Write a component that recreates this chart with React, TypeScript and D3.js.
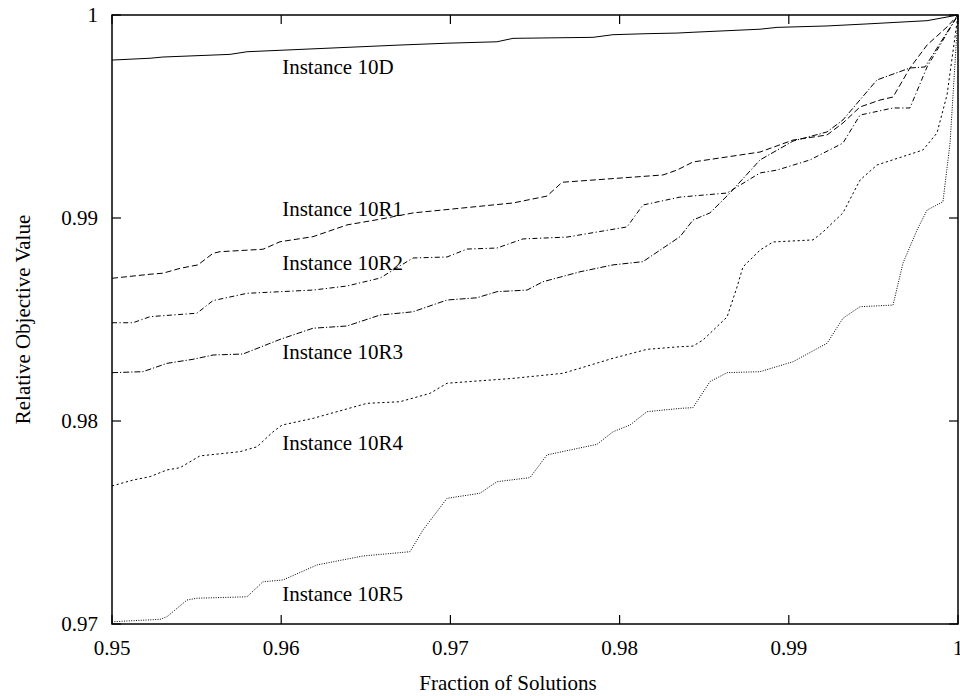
import React from "react";
import * as d3 from "d3";

// ---- data ----
const xTicks = [0.95, 0.96, 0.97, 0.98, 0.99, 1.0];
const xTickLabels = ["0.95", "0.96", "0.97", "0.98", "0.99", "1"];
const yTicks = [0.97, 0.98, 0.99, 1.0];
const yTickLabels = ["0.97", "0.98", "0.99", "1"];

const series10D: [number, number][] = [
  [0.95, 0.99778], [0.95225, 0.99787], [0.95301, 0.99793], [0.95697, 0.99806],
  [0.95798, 0.99819], [0.96702, 0.99852], [0.9698, 0.99861], [0.97275, 0.99868],
  [0.9737, 0.99885], [0.97843, 0.9989], [0.97961, 0.99903], [0.98162, 0.99908],
  [0.98339, 0.99911], [0.98434, 0.99915], [0.9883, 0.9993], [0.9893, 0.99939],
  [0.99226, 0.99946], [0.99462, 0.99956], [0.99817, 0.99972], [1.0, 1.0],
];

const series10R1: [number, number][] = [
  [0.95, 0.98703], [0.95225, 0.98723], [0.95301, 0.98728], [0.95402, 0.98752],
  [0.95508, 0.98769], [0.95597, 0.98826], [0.95638, 0.98834], [0.95892, 0.98846],
  [0.95993, 0.98883], [0.96188, 0.98908], [0.96389, 0.98966], [0.96584, 0.98994],
  [0.96779, 0.99025], [0.9737, 0.99074], [0.97571, 0.99108], [0.9766, 0.99176],
  [0.98256, 0.99212], [0.98339, 0.99236], [0.98434, 0.99276], [0.9883, 0.99325],
  [0.99025, 0.99384], [0.99226, 0.99409], [0.9932, 0.99468], [0.99421, 0.99547],
  [0.99539, 0.99581], [0.99616, 0.99596], [0.99716, 0.99739], [0.99817, 0.99852],
  [0.99935, 0.99941], [1.0, 1.0],
];

const series10R2: [number, number][] = [
  [0.95, 0.98484], [0.95124, 0.98484], [0.95225, 0.98514], [0.95502, 0.98531],
  [0.95597, 0.98593], [0.95798, 0.98629], [0.96188, 0.98645], [0.96389, 0.98665],
  [0.96584, 0.98704], [0.96779, 0.98803], [0.9698, 0.98808], [0.97098, 0.98847],
  [0.97275, 0.98852], [0.97429, 0.98897], [0.97689, 0.98906], [0.98044, 0.98956],
  [0.98138, 0.99064], [0.98357, 0.99103], [0.98635, 0.99123], [0.9883, 0.99222],
  [0.9893, 0.99236], [0.99125, 0.99286], [0.9932, 0.99369], [0.99421, 0.99507],
  [0.99616, 0.99542], [0.99716, 0.99542], [0.99817, 0.99744], [1.0, 1.0],
];

const series10R3: [number, number][] = [
  [0.95, 0.98238], [0.95183, 0.98243], [0.95325, 0.98284], [0.95479, 0.98304],
  [0.95597, 0.98325], [0.95774, 0.9833], [0.95993, 0.98402], [0.96188, 0.98457],
  [0.96389, 0.98468], [0.96584, 0.98522], [0.96779, 0.98538], [0.9698, 0.98596],
  [0.97157, 0.98607], [0.97275, 0.98637], [0.97453, 0.98645], [0.97547, 0.98686],
  [0.97766, 0.98735], [0.97961, 0.98769], [0.98138, 0.98785], [0.98357, 0.98908],
  [0.98434, 0.9899], [0.98534, 0.99025], [0.98652, 0.99123], [0.9883, 0.99286],
  [0.99025, 0.99379], [0.99226, 0.99424], [0.9932, 0.99483], [0.99521, 0.9968],
  [0.99716, 0.99739], [0.99805, 0.99744], [1.0, 1.0],
];

const series10R4: [number, number][] = [
  [0.95, 0.9768], [0.95124, 0.97709], [0.95225, 0.97726], [0.95325, 0.97759],
  [0.95402, 0.9777], [0.9552, 0.97828], [0.95757, 0.97849], [0.95857, 0.97873],
  [0.95952, 0.97947], [0.96005, 0.9798], [0.96188, 0.98013], [0.96507, 0.98087],
  [0.96702, 0.98095], [0.96879, 0.98136], [0.9698, 0.98186], [0.9737, 0.9821],
  [0.97665, 0.98235], [0.97766, 0.9826], [0.97961, 0.98309], [0.98162, 0.98353],
  [0.98357, 0.98366], [0.98434, 0.98369], [0.98493, 0.98399], [0.98635, 0.98512],
  [0.98694, 0.9866], [0.98729, 0.98759], [0.9883, 0.98842], [0.98907, 0.98882],
  [0.99143, 0.98892], [0.99202, 0.98931], [0.9932, 0.99025], [0.99421, 0.99187],
  [0.99521, 0.99261], [0.99793, 0.99335], [0.99876, 0.99419], [0.99935, 0.99606],
  [1.0, 1.0],
];

const series10R5: [number, number][] = [
  [0.95, 0.97011], [0.95284, 0.97023], [0.95325, 0.97036], [0.95443, 0.97118],
  [0.95502, 0.97127], [0.95798, 0.97134], [0.95892, 0.97208], [0.96011, 0.97217],
  [0.96212, 0.97291], [0.96483, 0.97335], [0.96761, 0.97356], [0.96838, 0.97463],
  [0.9698, 0.97619], [0.97175, 0.97644], [0.97275, 0.97701], [0.9747, 0.97721],
  [0.97571, 0.97833], [0.97866, 0.97885], [0.97961, 0.97947], [0.98061, 0.9798],
  [0.98162, 0.98046], [0.98357, 0.98062], [0.98434, 0.98066], [0.98534, 0.98194],
  [0.98635, 0.98238], [0.9883, 0.98243], [0.99025, 0.98292], [0.99226, 0.98383],
  [0.9932, 0.98506], [0.99421, 0.98563], [0.99616, 0.98571], [0.99675, 0.98778],
  [0.99758, 0.98941], [0.99817, 0.99039], [0.99911, 0.9908], [0.99953, 0.99369],
  [1.0, 1.0],
];

const seriesNames = ["Instance 10D", "Instance 10R1", "Instance 10R2", "Instance 10R3", "Instance 10R4", "Instance 10R5"];
const seriesData = [series10D, series10R1, series10R2, series10R3, series10R4, series10R5];
const labelX = [0.96, 0.96, 0.96, 0.96, 0.96, 0.96];
const labelY = [0.99744, 0.99044, 0.98776, 0.9834, 0.97894, 0.97148];

// ---- styles ----
const dashes = ["", "6,3", "5,2.5,1.2,2.5", "6,2,1.2,2", "2.2,2.6", "1,1.4"];
const FONT = "'Liberation Serif', 'Times New Roman', Times, serif";
const FS = 21;

const W = 960;
const H = 696;
const M = { left: 112, right: 2, top: 15, bottom: 72 };

export default function App() {
  const x = d3.scaleLinear().domain([0.95, 1.0]).range([M.left, W - M.right]);
  const y = d3.scaleLinear().domain([0.97, 1.0]).range([H - M.bottom, M.top]);
  const line = d3
    .line<[number, number]>()
    .x((d) => x(d[0]))
    .y((d) => y(d[1]));
  const x0 = x(0.95), x1 = x(1.0), y0 = y(0.97), y1 = y(1.0);
  const tick = 9;

  return (
    <svg
      width={W}
      height={H}
      style={{ position: "absolute", left: 0, top: 0, background: "#fff" }}
      fontFamily={FONT}
      fontSize={FS}
    >
      <rect x={0} y={0} width={W} height={H} fill="#fff" />
      {/* series */}
      {seriesData.map((s, i) => (
        <path
          key={"s" + i}
          d={line(s) || ""}
          fill="none"
          stroke="#000"
          strokeWidth={1}
          strokeDasharray={dashes[i] || undefined}
        />
      ))}
      {/* frame */}
      <rect x={x0} y={y1} width={x1 - x0} height={y0 - y1} fill="none" stroke="#000" strokeWidth={1.5} />
      {/* x ticks */}
      {xTicks.map((t, i) => (
        <g key={"xt" + i}>
          <line x1={x(t)} x2={x(t)} y1={y0} y2={y0 - tick} stroke="#000" strokeWidth={1.2} />
          <line x1={x(t)} x2={x(t)} y1={y1} y2={y1 + tick} stroke="#000" strokeWidth={1.2} />
          <text x={x(t)} y={y0 + 31} textAnchor="middle" fill="#000">
            {xTickLabels[i]}
          </text>
        </g>
      ))}
      {/* y ticks */}
      {yTicks.map((t, i) => (
        <g key={"yt" + i}>
          <line x1={x0} x2={x0 + tick} y1={y(t)} y2={y(t)} stroke="#000" strokeWidth={1.2} />
          <line x1={x1} x2={x1 - tick} y1={y(t)} y2={y(t)} stroke="#000" strokeWidth={1.2} />
          <text x={x0 - 14} y={y(t) + 7} textAnchor="end" fill="#000">
            {yTickLabels[i]}
          </text>
        </g>
      ))}
      {/* series labels */}
      {seriesNames.map((n, i) => (
        <text key={"l" + i} x={x(labelX[i]) + 1} y={y(labelY[i]) + 7} fill="#000">
          {n}
        </text>
      ))}
      {/* axis titles */}
      <text x={508} y={690} textAnchor="middle" fill="#000">
        Fraction of Solutions
      </text>
      <text
        transform={`translate(30, ${(y0 + y1) / 2}) rotate(-90)`}
        textAnchor="middle"
        fill="#000"
      >
        Relative Objective Value
      </text>
    </svg>
  );
}
